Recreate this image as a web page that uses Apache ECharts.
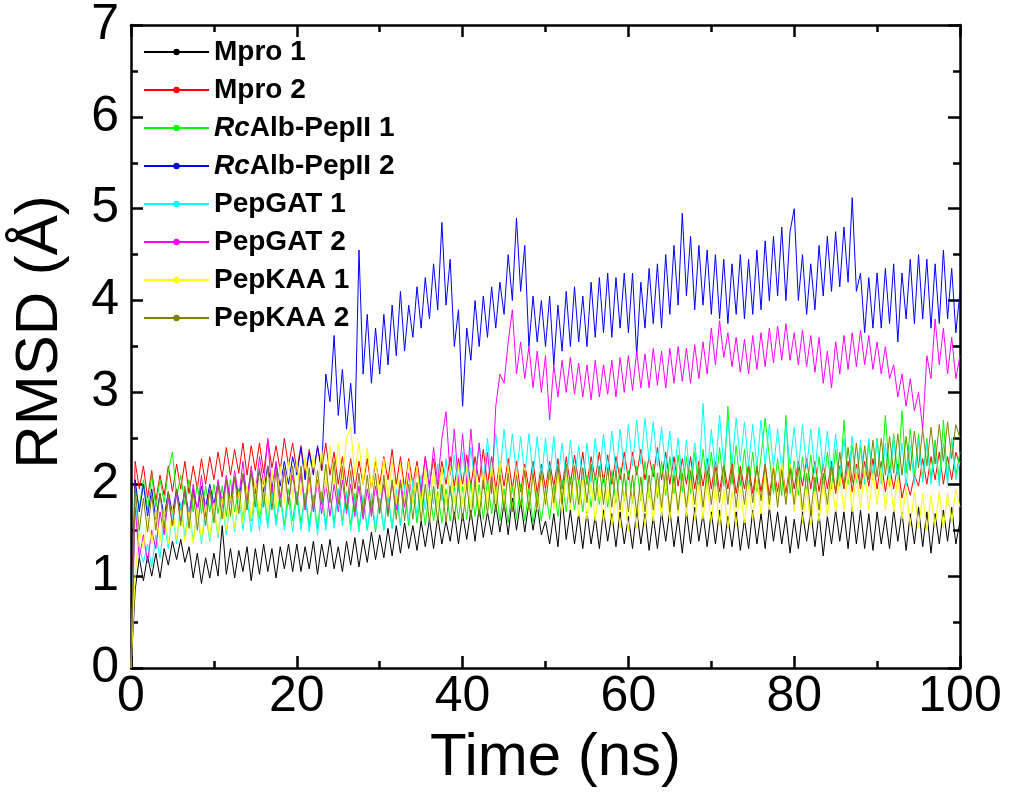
<!DOCTYPE html>
<html>
<head>
<meta charset="utf-8">
<script src="https://cdn.jsdelivr.net/npm/echarts@6/dist/echarts.min.js"></script>
<style>
html,body{margin:0;padding:0;background:#fff;}
#c{width:1009px;height:793px;}
</style>
</head>
<body>
<div id="c"></div>
<script>
// Time step between samples (ns)
var timeStep = 0.5;
var xTicks = [0, 20, 40, 60, 80, 100];
var yTicks = [0, 1, 2, 3, 4, 5, 6, 7];
var seriesNames = ['Mpro 1', 'Mpro 2', 'RcAlb-PepII 1', 'RcAlb-PepII 2', 'PepGAT 1', 'PepGAT 2', 'PepKAA 1', 'PepKAA 2'];

var mpro1 = [
0,0.85,1.2,0.95,1.22,1.0,1.25,0.98,1.3,1.12,1.38,1.18,1.4,1.15,1.32,0.98,1.25,0.92,1.2,0.98,
1.25,1.0,1.55,1.02,1.3,0.98,1.28,1.05,1.32,0.95,1.3,1.02,1.35,1.05,1.3,0.98,1.32,1.08,1.35,1.05,
1.35,1.05,1.32,1.08,1.38,1.02,1.35,1.1,1.4,1.08,1.32,1.05,1.38,1.12,1.42,1.1,1.4,1.15,1.48,1.18,
1.45,1.2,1.52,1.22,1.55,1.25,1.58,1.3,1.55,1.28,1.6,1.32,1.62,1.3,1.65,1.35,1.6,1.38,1.7,1.35,
1.68,1.4,1.72,1.38,1.75,1.42,1.7,1.45,1.78,1.48,1.8,1.45,1.85,1.5,1.82,1.48,1.8,1.5,1.78,1.45,
1.6,1.35,1.68,1.32,1.85,1.4,1.72,1.35,1.68,1.3,1.7,1.35,1.65,1.3,1.72,1.38,1.68,1.32,1.7,1.35,
1.65,1.3,1.72,1.35,1.68,1.28,1.65,1.3,1.7,1.38,1.72,1.32,1.65,1.25,1.7,1.35,1.75,1.38,1.68,1.32,
1.7,1.35,1.72,1.3,1.65,1.32,1.7,1.28,1.62,1.3,1.72,1.35,1.68,1.3,1.75,1.38,1.7,1.35,1.65,1.25,
1.62,1.3,1.7,1.38,1.72,1.32,1.68,1.22,1.65,1.35,1.72,1.38,1.7,1.3,1.75,1.35,1.72,1.3,1.68,1.28,
1.7,1.35,1.65,1.3,1.72,1.38,1.7,1.28,1.68,1.35,1.75,1.32,1.7,1.25,1.68,1.35,1.72,1.38,1.75,1.35,
1.6];

var mpro2 = [
0,2.25,1.95,2.2,1.85,2.15,1.82,2.1,1.88,2.2,1.92,2.22,1.95,2.25,1.9,2.2,1.95,2.28,2.0,2.3,
2.05,2.35,2.08,2.4,2.1,2.38,2.12,2.45,2.1,2.42,2.15,2.45,2.12,2.48,2.18,2.42,2.15,2.5,2.2,2.45,
2.15,2.42,2.1,2.38,2.12,2.4,2.15,2.45,2.1,2.35,2.0,2.3,1.98,2.28,1.95,2.25,2.0,2.28,1.95,2.25,
2.0,2.3,2.05,2.38,2.0,2.3,1.95,2.28,2.0,2.25,1.95,2.3,2.0,2.28,1.95,2.25,2.0,2.3,1.98,2.28,
2.0,2.32,1.98,2.3,2.02,2.38,2.0,2.3,1.95,2.25,1.98,2.28,1.95,2.25,1.92,2.22,1.95,2.25,1.9,2.22,
1.95,2.25,1.98,2.28,1.95,2.3,2.0,2.32,2.02,2.35,2.0,2.3,2.05,2.35,2.02,2.32,2.0,2.3,2.05,2.35,
2.05,2.35,2.1,2.38,2.05,2.3,2.08,2.4,2.05,2.35,2.0,2.3,1.98,2.28,2.0,2.3,1.95,2.25,1.98,2.28,
1.95,2.25,1.92,2.22,1.95,2.25,1.9,2.2,1.95,2.22,1.9,2.2,1.92,2.22,1.88,2.18,1.92,2.2,1.9,2.22,
1.95,2.25,1.98,2.28,1.95,2.25,1.92,2.22,1.95,2.25,1.9,2.2,1.95,2.25,1.92,2.22,1.95,2.25,1.98,2.28,
1.95,2.25,1.92,2.2,1.95,2.22,1.85,2.05,1.88,2.1,1.98,2.28,2.0,2.3,2.05,2.35,2.0,2.3,2.05,2.35,
2.2];

var pepII1 = [
0,1.95,1.75,2.05,1.72,2.1,1.75,2.05,1.8,2.15,2.35,1.85,2.1,1.78,2.05,1.7,2.0,1.68,1.98,1.7,
2.0,1.68,1.98,1.65,2.05,1.7,1.95,1.62,1.98,1.6,1.95,1.62,1.92,1.58,1.95,1.6,1.9,1.55,1.95,1.6,
1.92,1.58,1.9,1.55,1.88,1.52,1.92,1.55,1.9,1.58,1.95,1.6,1.92,1.55,1.9,1.52,1.85,1.5,1.82,1.48,
1.85,1.5,1.88,1.52,1.9,1.55,1.92,1.55,1.95,1.58,1.92,1.55,1.95,1.6,1.92,1.58,1.95,1.6,1.98,1.62,
1.98,1.62,2.02,1.65,2.0,1.62,2.05,1.68,1.98,1.6,1.95,1.58,1.98,1.62,2.0,1.6,1.95,1.58,1.92,1.6,
1.95,1.62,2.0,1.65,2.05,1.7,2.08,1.72,2.05,1.7,2.1,1.75,2.12,1.78,2.1,1.75,2.15,1.8,2.18,1.82,
2.15,1.8,2.2,1.82,2.25,1.85,2.22,1.85,2.25,1.88,2.3,1.9,2.32,1.92,2.3,1.9,2.35,1.95,2.38,1.95,
2.35,1.95,2.4,1.98,2.85,2.0,2.42,1.98,2.38,1.95,2.35,1.92,2.3,2.72,2.3,1.9,2.28,1.88,2.75,1.9,
2.25,1.88,2.3,1.9,2.32,1.92,2.3,1.95,2.35,1.95,2.38,1.98,2.7,2.0,2.42,2.02,2.4,2.0,2.45,2.05,
2.5,2.08,2.75,2.1,2.55,2.08,2.8,2.12,2.6,2.1,2.55,2.05,2.5,2.05,2.48,2.02,2.7,2.05,2.5,2.1,
2.35];

var pepII2 = [
0,2.05,1.7,2.0,1.65,1.95,1.62,1.9,1.65,1.92,1.68,1.95,1.7,1.92,1.68,1.95,1.72,1.98,1.75,2.0,
1.78,2.02,1.8,2.05,1.82,2.08,1.85,2.1,1.88,2.12,1.9,2.15,1.92,2.2,1.95,2.22,1.98,2.25,2.0,2.3,
2.1,2.4,2.05,2.35,2.1,2.42,2.15,3.2,2.9,3.62,2.75,3.25,2.6,3.1,2.55,4.55,3.2,3.85,3.1,3.7,
3.2,3.85,3.3,3.95,3.4,4.1,3.45,3.95,3.6,4.15,3.7,4.25,3.8,4.4,3.9,4.85,3.95,4.45,3.5,3.9,
2.85,3.7,3.35,4.0,3.5,4.05,3.6,4.15,3.7,4.2,3.85,4.5,4.0,4.9,4.1,4.6,3.5,4.05,3.55,4.0,
3.5,4.05,3.3,3.95,3.45,4.1,3.5,4.15,3.55,4.05,3.5,4.2,3.6,4.25,3.65,4.3,3.6,4.25,3.7,4.3,
3.65,4.3,3.4,4.2,3.7,4.35,3.75,4.4,3.7,4.5,3.85,4.6,3.95,4.95,4.05,4.7,3.9,4.6,3.95,4.55,
3.85,4.5,3.8,4.45,3.75,4.4,3.85,4.5,3.8,4.45,3.85,4.55,3.9,4.65,4.0,4.7,4.05,4.8,4.0,4.75,
5.0,4.0,4.5,3.85,4.4,3.9,4.6,4.05,4.7,4.1,4.75,4.15,4.8,4.2,5.12,4.1,4.3,3.65,4.25,3.7,
4.3,3.7,4.35,3.75,4.4,3.55,4.3,3.8,4.45,3.75,4.5,3.8,4.45,3.7,4.4,3.75,4.55,3.8,4.35,3.65,
4.1];

var pepGAT1 = [
0,1.9,1.3,1.15,1.35,1.1,1.45,1.2,1.6,1.3,1.7,1.35,1.8,1.42,1.75,1.38,1.72,1.35,1.7,1.38,
1.75,1.42,1.8,1.45,1.85,1.48,1.9,1.5,1.85,1.48,1.88,1.5,1.9,1.52,1.92,1.55,1.88,1.5,1.85,1.48,
1.88,1.5,1.9,1.48,1.85,1.45,1.88,1.5,1.92,1.52,1.95,1.55,1.9,1.5,1.85,1.48,1.88,1.5,1.9,1.52,
1.85,1.5,1.9,1.52,1.95,1.55,2.0,1.6,2.05,1.65,2.1,1.72,2.15,1.78,2.22,1.82,2.28,1.88,2.32,1.92,
2.35,1.95,2.4,1.98,2.45,2.02,2.5,2.05,2.55,2.1,2.6,2.12,2.55,2.1,2.52,2.08,2.55,2.1,2.52,2.05,
2.5,2.05,2.52,2.05,2.45,2.02,2.48,2.05,2.42,2.0,2.45,2.02,2.5,2.08,2.55,2.1,2.58,2.12,2.6,2.15,
2.65,2.2,2.7,2.22,2.72,2.25,2.68,2.2,2.62,2.15,2.58,2.1,2.5,2.05,2.48,2.02,2.45,2.05,2.88,2.1,
2.6,2.15,2.75,2.2,2.7,2.22,2.72,2.25,2.68,2.2,2.65,2.18,2.7,2.2,2.65,2.18,2.6,2.15,2.65,2.2,
2.62,2.15,2.65,2.18,2.6,2.12,2.62,2.15,2.58,2.1,2.55,2.08,2.5,2.05,2.52,2.05,2.48,2.02,2.5,2.05,
2.48,2.0,2.45,1.98,2.5,2.02,2.45,1.98,2.42,2.0,2.48,2.02,2.45,2.0,2.4,1.98,2.45,2.0,2.5,2.05,
2.25];

var pepGAT2 = [
0,1.75,1.2,1.45,1.15,1.5,1.3,1.7,1.45,1.85,1.55,1.9,1.6,1.95,1.62,2.0,1.7,2.1,1.65,1.95,
1.72,2.05,1.75,2.1,1.8,2.15,1.85,2.25,1.82,2.2,1.9,2.3,2.0,2.5,1.9,2.25,1.85,2.15,1.8,2.1,
1.78,2.12,1.72,2.08,1.7,2.05,1.68,2.02,1.65,2.0,1.7,2.05,1.68,2.0,1.65,1.98,1.62,1.95,1.65,1.98,
1.7,2.0,1.68,2.02,1.72,2.05,1.75,2.12,1.8,2.2,1.9,2.3,1.95,2.4,2.0,2.5,2.79,2.1,2.6,2.0,
2.55,2.0,2.6,2.02,2.45,1.95,2.35,1.9,2.85,3.2,3.1,3.55,3.9,3.2,3.55,3.15,3.5,3.05,3.45,3.0,
3.4,2.7,3.3,2.95,3.35,3.0,3.38,2.98,3.32,2.95,3.3,2.92,3.35,2.95,3.3,2.98,3.35,2.95,3.38,3.0,
3.4,3.02,3.45,3.05,3.42,3.05,3.48,3.08,3.45,3.05,3.48,3.1,3.5,3.12,3.48,3.1,3.52,3.15,3.55,3.2,
3.7,3.3,3.78,3.38,3.65,3.28,3.6,3.22,3.58,3.2,3.62,3.25,3.65,3.28,3.7,3.32,3.72,3.35,3.75,3.35,
3.65,3.3,3.68,3.28,3.62,3.22,3.6,3.1,3.45,3.05,3.55,3.2,3.62,3.25,3.65,3.28,3.68,3.3,3.62,3.25,
3.55,3.2,3.5,3.15,3.3,2.95,3.2,2.85,3.15,2.8,3.0,2.6,3.4,3.15,3.8,3.3,3.7,3.2,3.6,3.15,
3.4];

var pepKAA1 = [
0,1.0,1.5,1.3,1.65,1.35,1.7,1.38,1.72,1.35,1.75,1.4,1.72,1.38,1.7,1.35,1.75,1.4,1.78,1.42,
1.8,1.45,1.85,1.5,1.88,1.52,1.92,1.58,1.98,1.62,2.05,1.68,2.1,1.72,2.15,1.75,2.2,1.8,2.25,1.85,
2.25,1.88,2.3,1.9,2.32,1.92,2.38,1.95,2.42,2.0,2.45,2.05,2.5,2.62,2.1,2.45,2.0,2.4,1.95,2.3,
1.88,2.28,1.85,2.25,1.8,2.22,1.82,2.25,1.78,2.2,1.75,2.18,1.72,2.15,1.75,2.18,1.78,2.2,1.8,2.22,
1.78,2.2,1.75,2.18,1.72,2.15,1.78,2.22,1.8,2.25,1.75,2.2,1.72,2.15,1.75,2.18,1.7,2.12,1.72,2.15,
1.75,2.15,1.72,2.12,1.7,2.1,1.72,2.15,1.65,2.05,1.62,2.02,1.6,2.0,1.58,1.98,1.55,1.92,1.52,1.9,
1.5,1.88,1.52,1.92,1.55,1.95,1.6,2.02,1.65,2.08,1.62,2.05,1.68,2.1,1.65,2.05,1.6,2.0,1.62,2.02,
1.58,1.98,1.55,1.95,1.52,1.92,1.55,1.95,1.58,2.0,1.62,2.05,1.68,2.12,1.72,2.2,1.78,2.25,1.8,2.22,
1.7,2.05,1.58,1.95,1.55,1.92,1.6,2.0,1.65,2.05,1.7,2.1,1.72,2.15,1.7,2.12,1.75,2.15,1.72,2.12,
1.78,2.18,1.72,2.12,1.7,2.1,1.62,1.95,1.55,1.92,1.52,1.9,1.5,1.88,1.55,1.92,1.52,1.9,1.58,1.95,
1.75];

var pepKAA2 = [
0,1.95,1.5,1.85,1.48,1.88,1.5,1.9,1.52,1.92,1.55,1.95,1.55,1.98,1.52,1.92,1.5,1.9,1.55,1.95,
1.58,2.0,1.62,2.05,1.65,2.08,1.68,2.12,1.72,2.15,1.75,2.18,1.75,2.2,1.72,2.15,1.75,2.18,1.78,2.2,
1.78,2.2,1.75,2.18,1.72,2.15,1.78,2.22,1.8,2.25,1.78,2.2,1.72,2.15,1.7,2.12,1.68,2.1,1.7,2.12,
1.68,2.1,1.65,2.05,1.62,2.02,1.6,2.0,1.62,2.02,1.6,2.0,1.58,1.98,1.6,2.0,1.58,1.98,1.62,2.02,
1.6,2.0,1.62,2.02,1.65,2.05,1.68,2.08,1.7,2.1,1.72,2.12,1.7,2.1,1.75,2.15,1.72,2.12,1.75,2.15,
1.78,2.18,1.8,2.2,1.82,2.22,1.8,2.2,1.78,2.18,1.8,2.22,1.82,2.2,1.78,2.18,1.75,2.15,1.72,2.12,
1.7,2.1,1.68,2.08,1.7,2.1,1.72,2.12,1.75,2.15,1.7,2.1,1.72,2.12,1.75,2.15,1.78,2.18,1.75,2.15,
1.78,2.18,1.8,2.2,1.78,2.18,1.75,2.15,1.78,2.18,1.8,2.2,1.82,2.22,1.78,2.18,1.75,2.15,1.78,2.18,
1.78,2.18,1.72,2.12,1.68,2.08,1.72,2.12,1.78,2.2,1.92,2.35,1.98,2.4,2.02,2.45,2.0,2.42,2.05,2.48,
2.08,2.5,2.1,2.52,2.12,2.55,2.1,2.52,2.15,2.58,2.18,2.6,2.2,2.62,2.22,2.65,2.25,2.68,2.28,2.65,
2.5];

var seriesValues = [mpro1, mpro2, pepII1, pepII2, pepGAT1, pepGAT2, pepKAA1, pepKAA2];
var seriesColors = ['#000000', '#ff0000', '#00ff00', '#0000ff', '#00ffff', '#ff00ff', '#ffff00', '#808000'];

function pairs(vals) {
  return vals.map(function (v, i) { return [i * timeStep, v]; });
}

var FONT = 'Liberation Sans, Arial, sans-serif';
var chart = echarts.init(document.getElementById('c'), null, { renderer: 'canvas' });

var axisLineStyle = { color: '#000', width: 2.5 };
function mkX(pos, showLabel) {
  return {
    type: 'value', position: pos, min: 0, max: 100, interval: 20,
    axisLine: { show: true, onZero: false, lineStyle: axisLineStyle },
    axisTick: { show: true, inside: true, length: 12, lineStyle: { color: '#000', width: 2.5 } },
    minorTick: { show: true, splitNumber: 2, length: 7, lineStyle: { color: '#000', width: 2.5 } },
    splitLine: { show: false },
    axisLabel: { show: showLabel, fontSize: 50, color: '#000', fontFamily: FONT, margin: 4,
      formatter: function (v) { return xTicks.indexOf(v) >= 0 ? String(v) : ''; } }
  };
}
function mkY(pos, showLabel) {
  return {
    type: 'value', position: pos, min: 0, max: 7, interval: 1,
    axisLine: { show: true, onZero: false, lineStyle: axisLineStyle },
    axisTick: { show: true, inside: true, length: 12, lineStyle: { color: '#000', width: 2.5 } },
    minorTick: { show: true, splitNumber: 2, length: 7, lineStyle: { color: '#000', width: 2.5 } },
    splitLine: { show: false },
    axisLabel: { show: showLabel, fontSize: 50, color: '#000', fontFamily: FONT, margin: 12,
      padding: [14, 0, 0, 0],
      formatter: function (v) { return yTicks.indexOf(v) >= 0 ? String(v) : ''; } }
  };
}

var series = seriesNames.map(function (name, k) {
  return {
    name: name, type: 'line', xAxisIndex: 0, yAxisIndex: 0,
    data: pairs(seriesValues[k]),
    symbol: 'circle', symbolSize: 2, showSymbol: false,
    lineStyle: { width: 1, color: seriesColors[k] },
    itemStyle: { color: seriesColors[k] },
    emphasis: { disabled: true },
    animation: false
  };
});

chart.setOption({
  backgroundColor: '#fff',
  animation: false,
  grid: { left: 131, right: 49, top: 21, bottom: 125, containLabel: false },
  xAxis: [mkX('bottom', true), mkX('top', false)],
  yAxis: [mkY('left', true), mkY('right', false)],
  legend: {
    orient: 'vertical', left: 138, top: 33,
    itemWidth: 65, itemHeight: 8, itemGap: 10,
    data: seriesNames,
    textStyle: { fontSize: 28, fontWeight: 'bold', fontFamily: FONT, color: '#000', lineHeight: 27,
      rich: { i: { fontSize: 28, fontWeight: 'bold', fontStyle: 'italic', fontFamily: FONT, color: '#000' } } },
    formatter: function (n) {
      if (n.indexOf('Rc') === 0) { return '{i|Rc}' + n.slice(2); }
      return n;
    }
  },
  graphic: [
    { type: 'text', left: 430, top: 728,
      style: { text: 'Time (ns)', font: '60px ' + FONT, fill: '#000' } },
    { type: 'text', x: 40, y: 332, rotation: Math.PI / 2,
      style: { text: 'RMSD (Å)', font: '60px ' + FONT, fill: '#000', align: 'center', verticalAlign: 'middle' } }
  ],
  series: series
});
</script>
</body>
</html>
